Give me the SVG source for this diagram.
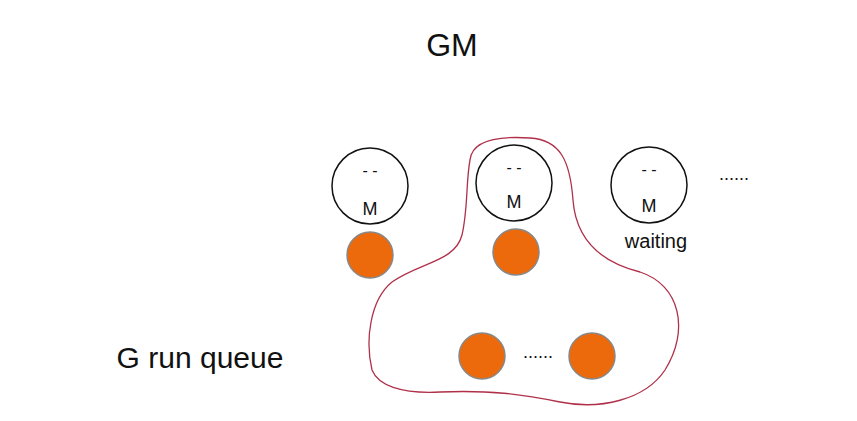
<svg xmlns="http://www.w3.org/2000/svg" width="857" height="421" viewBox="0 0 857 421">
<style>
.t{font-family:"Liberation Sans",sans-serif;fill:#111}
.face{fill:#fff;stroke:#111;stroke-width:1.5}
.g{fill:#ec6a0c;stroke:#888;stroke-width:1.5}
</style>
<rect width="857" height="421" fill="#fff"/>
<text class="t" x="452" y="56" font-size="32" text-anchor="middle">GM</text>
<g id="connectors">
<path d="M470,160 C472,140 500,136 530,138 C560,140 570,160 573,200 C576,240 600,262 640,272 C680,285 690,330 665,370 C645,400 600,410 560,402 C520,394 490,390 440,392 C400,394 378,385 372,370 C365,340 370,300 392,282 C420,262 455,262 462,235 C468,210 466,180 470,160 Z" fill="none" stroke="#b0304a" stroke-width="1.3"/>
</g>
<g id="m1"><circle class="face" cx="370" cy="186" r="38"/><text class="t" x="370" y="176" font-size="16" text-anchor="middle">-   -</text><text class="t" x="370" y="215" font-size="18" text-anchor="middle">M</text></g>
<g id="m2"><circle class="face" cx="514" cy="183" r="38"/><text class="t" x="514" y="173" font-size="16" text-anchor="middle">-   -</text><text class="t" x="514" y="208" font-size="18" text-anchor="middle">M</text></g>
<g id="m3"><circle class="face" cx="649" cy="185" r="38"/><text class="t" x="649" y="175" font-size="16" text-anchor="middle">-   -</text><text class="t" x="649" y="212" font-size="18" text-anchor="middle">M</text><text class="t" x="656" y="248" font-size="20" text-anchor="middle">waiting</text></g>
<text class="t" x="734" y="180" font-size="18" text-anchor="middle">......</text>
<g id="g1"><circle class="g" cx="370" cy="255" r="23"/></g>
<g id="g2"><circle class="g" cx="516" cy="252" r="23"/></g>
<g id="q1"><circle class="g" cx="482" cy="356" r="23"/></g>
<g id="q2"><circle class="g" cx="592" cy="356" r="23"/></g>
<text class="t" x="538" y="358" font-size="18" text-anchor="middle">......</text>
<text class="t" x="200" y="368" font-size="30" text-anchor="middle">G run queue</text>
</svg>
